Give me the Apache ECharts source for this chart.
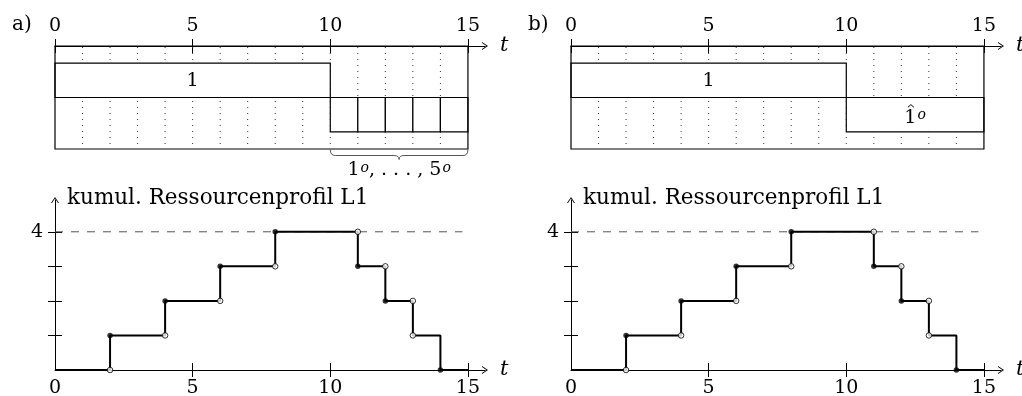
<!DOCTYPE html>
<html><head><meta charset="utf-8">
<script src="https://cdn.jsdelivr.net/npm/echarts@6/dist/echarts.min.js"></script>
<style>html,body{margin:0;padding:0;background:#fff}#c{width:1022px;height:396px}</style>
</head><body><div id="c"></div>
<script>
// ---------- data ----------
const panelLabels = ['a)', 'b)'];
const xTickLabels = [0, 5, 10, 15];
const topTicks = [0, 5, 10, 15];
const bottomTicks = [5, 10, 15];
const yTicks = [1, 2, 3, 4];
const yTickLabels = [4];
const horizon = 15;
const laneCount = 3;               // schematic height in lane units
const dotLines = [1, 2, 3, 4, 5, 6, 7, 8, 9, 10, 11, 12, 13, 14];
// [start, end, lane]
const jobsA = [[0, 10, 2], [10, 11, 1], [11, 12, 1], [12, 13, 1], [13, 14, 1], [14, 15, 1]];
const jobLabelsA = ['1', '', '', '', '', ''];
const jobHatsA = [false, false, false, false, false, false];
const jobsB = [[0, 10, 2], [10, 15, 1]];
const jobLabelsB = ['1', '1{s|o}'];
const jobHatsB = [false, true];
const braceA = [[10, 15]];
const braceLabelA = '1{s|o}, . . . , 5{s|o}';
const profile = [[0, 0], [2, 1], [4, 2], [6, 3], [8, 4], [11, 3], [12, 2], [13, 1], [14, 0], [15, 0]];
const closedDots = [[2, 1], [4, 2], [6, 3], [8, 4], [11, 3], [12, 2], [14, 0]];
const openDots = [[2, 0], [4, 1], [6, 2], [8, 3], [11, 4], [12, 3], [13, 2], [13, 1]];
const capacity = 4;
const capacityLine = [[0, capacity], [14.8, capacity]];
const yName = 'kumul. Ressourcenprofil L1';
const tName = 't';

// ---------- style ----------
const FONT = 'DejaVu Serif';
const XMAX = 15.62, YMAX = 4.92;
const W = 430;
const lefts = [55, 571];
const ARROW = 'path://M0,6L4,0L8,6L7,6L4,1.6L1,6Z';
const richSup = { s: { fontSize: 14, fontStyle: 'italic', fontFamily: FONT, fill: '#000', verticalAlign: 'top', padding: [0, 0, 0, 1] } };

const grid = [], xAxis = [], yAxis = [], series = [], title = [];

function xAx(gi, pos, main, ticks) {
  return {
    type: 'value', gridIndex: gi, position: pos, min: 0, max: XMAX, interval: 5,
    axisLine: main ? { show: true, onZero: false, lineStyle: { color: '#000', width: 1 }, symbol: ['none', ARROW], symbolSize: [8, 6] } : { show: false, onZero: false },
    axisTick: { show: true, inside: !main, length: 7, lineStyle: { color: '#000', width: 1 }, customValues: ticks },
    axisLabel: main ? { show: true, customValues: xTickLabels, margin: pos === 'top' ? 10 : 9, fontFamily: FONT, fontSize: 19, color: '#000' } : { show: false },
    splitLine: { show: false },
    name: main ? tName : '', nameLocation: 'end', nameGap: 15,
    nameTextStyle: { fontFamily: FONT, fontStyle: 'italic', fontSize: 21, color: '#000' }
  };
}

panelLabels.forEach((lab, p) => {
  const L = lefts[p];
  const gTop = grid.length;
  grid.push({ left: L, top: 46, width: W, height: 103, outerBoundsMode: 'none' });
  grid.push({ left: L, top: 200, width: W, height: 170, outerBoundsMode: 'none' });
  const gBot = gTop + 1;
  title.push({ text: lab, left: L - 43, top: 15, padding: 0, textStyle: { fontFamily: FONT, fontSize: 20, fontWeight: 'normal', color: '#000' } });

  const xTopMain = xAxis.length; xAxis.push(xAx(gTop, 'top', true, topTicks));
  xAxis.push(xAx(gTop, 'top', false, topTicks));
  const xBotMain = xAxis.length; xAxis.push(xAx(gBot, 'bottom', true, bottomTicks));
  xAxis.push(xAx(gBot, 'bottom', false, bottomTicks));

  const yTop = yAxis.length; yAxis.push({ type: 'value', gridIndex: gTop, min: 0, max: laneCount, show: false });
  const yBotMain = yAxis.length;
  yAxis.push({
    type: 'value', gridIndex: gBot, position: 'left', min: 0, max: YMAX, interval: 1,
    axisLine: { show: true, onZero: false, lineStyle: { color: '#000', width: 1 }, symbol: ['none', ARROW], symbolSize: [8, 6] },
    axisTick: { show: true, length: 7, lineStyle: { color: '#000', width: 1 }, customValues: yTicks },
    axisLabel: { show: true, customValues: yTickLabels, margin: 12, fontFamily: FONT, fontSize: 19, color: '#000' },
    splitLine: { show: false },
    name: yName, nameLocation: 'end', nameGap: 2,
    nameTextStyle: { fontFamily: FONT, fontSize: 21.5, color: '#000', align: 'left', verticalAlign: 'middle', padding: [0, 0, 0, 12] }
  });
  yAxis.push({
    type: 'value', gridIndex: gBot, position: 'left', min: 0, max: YMAX, interval: 1,
    axisLine: { show: false, onZero: false },
    axisTick: { show: true, inside: true, length: 7, lineStyle: { color: '#000', width: 1 }, customValues: yTicks },
    axisLabel: { show: false }, splitLine: { show: false }
  });

  // schematic: dotted grid
  series.push({
    type: 'custom', xAxisIndex: xTopMain, yAxisIndex: yTop, silent: true, z: 1,
    data: dotLines.map(v => [v, 0]),
    renderItem(params, api) {
      const x = api.value(0);
      const a = api.coord([x, laneCount]), b = api.coord([x, 0]);
      return { type: 'line', shape: { x1: a[0], y1: a[1], x2: b[0], y2: b[1] },
        style: { stroke: '#333', lineWidth: 1, lineDash: [1, 5], lineDashOffset: -1 } };
    }
  });
  // schematic: jobs
  const jobs = p === 0 ? jobsA : jobsB;
  const jobLabels = p === 0 ? jobLabelsA : jobLabelsB;
  const jobHats = p === 0 ? jobHatsA : jobHatsB;
  series.push({
    type: 'custom', xAxisIndex: xTopMain, yAxisIndex: yTop, silent: true, z: 2,
    data: jobs,
    renderItem(params, api) {
      const s = api.value(0), e = api.value(1), lane = api.value(2);
      const a = api.coord([s, lane + 0.5]), b = api.coord([e, lane - 0.5]);
      const c = api.coord([(s + e) / 2, lane]);
      const children = [{ type: 'rect', shape: { x: a[0], y: a[1], width: b[0] - a[0], height: b[1] - a[1] },
        style: { fill: '#fff', stroke: '#000', lineWidth: 1.2 } }];
      const t = jobLabels[params.dataIndex];
      const hat = jobHats[params.dataIndex];
      const ty = c[1] + (hat ? 3 : 1);
      if (t) children.push({ type: 'text', x: c[0], y: ty,
        style: { text: t, fontFamily: FONT, fontSize: 19, fill: '#000', align: 'center', verticalAlign: 'middle', rich: richSup } });
      if (hat) {
        const hx = c[0] - 4.2, hy = ty - 13;
        children.push({ type: 'polyline', shape: { points: [[hx - 3, hy + 2.6], [hx, hy], [hx + 3, hy + 2.6]] },
          style: { fill: 'none', stroke: '#000', lineWidth: 1 } });
      }
      return { type: 'group', children };
    }
  });
  // schematic: frame
  series.push({
    type: 'custom', xAxisIndex: xTopMain, yAxisIndex: yTop, silent: true, z: 3,
    data: [[0, horizon]],
    renderItem(params, api) {
      const a = api.coord([api.value(0), laneCount]), b = api.coord([api.value(1), 0]);
      return { type: 'rect', shape: { x: a[0], y: a[1], width: b[0] - a[0], height: b[1] - a[1] },
        style: { fill: 'none', stroke: '#000', lineWidth: 1.2 } };
    }
  });
  if (p === 0) {
    series.push({
      type: 'custom', xAxisIndex: xTopMain, yAxisIndex: yTop, silent: true, z: 3,
      data: braceA,
      renderItem(params, api) {
        const a = api.coord([api.value(0), 0]), b = api.coord([api.value(1), 0]);
        const y0 = a[1] + 0.5, h = 6, x0 = a[0], x1 = b[0], xm = (x0 + x1) / 2;
        const d = `M${x0},${y0} Q${x0},${y0 + h} ${x0 + 5},${y0 + h} L${xm - 5},${y0 + h} Q${xm},${y0 + h} ${xm},${y0 + h + 4} Q${xm},${y0 + h} ${xm + 5},${y0 + h} L${x1 - 5},${y0 + h} Q${x1},${y0 + h} ${x1},${y0}`;
        return { type: 'group', children: [
          { type: 'path', shape: { pathData: d }, style: { fill: 'none', stroke: '#555', lineWidth: 1 } },
          { type: 'text', x: xm, y: y0 + 21, style: { text: braceLabelA, fontFamily: FONT, fontSize: 19, fill: '#000', align: 'center', verticalAlign: 'middle', rich: richSup } }
        ] };
      }
    });
  }
  // profile
  series.push({ type: 'line', xAxisIndex: xBotMain, yAxisIndex: yBotMain, data: capacityLine, showSymbol: false, silent: true,
    lineStyle: { color: '#555', width: 1, type: [8, 8] }, z: 2 });
  series.push({ type: 'line', xAxisIndex: xBotMain, yAxisIndex: yBotMain, data: profile, step: 'end', showSymbol: false, silent: true,
    lineStyle: { color: '#000', width: 2 }, z: 3 });
  series.push({ type: 'scatter', xAxisIndex: xBotMain, yAxisIndex: yBotMain, data: closedDots, symbol: 'circle', symbolSize: 5.5, silent: true,
    itemStyle: { color: '#000' }, z: 4 });
  series.push({ type: 'scatter', xAxisIndex: xBotMain, yAxisIndex: yBotMain, data: openDots, symbol: 'circle', symbolSize: 5.5, silent: true,
    itemStyle: { color: '#fff', borderColor: '#000', borderWidth: 1 }, z: 4 });
});

const chart = echarts.init(document.getElementById('c'), null, { renderer: 'canvas' });
chart.setOption({ animation: false, backgroundColor: '#fff', title, grid, xAxis, yAxis, series });
</script></body></html>
